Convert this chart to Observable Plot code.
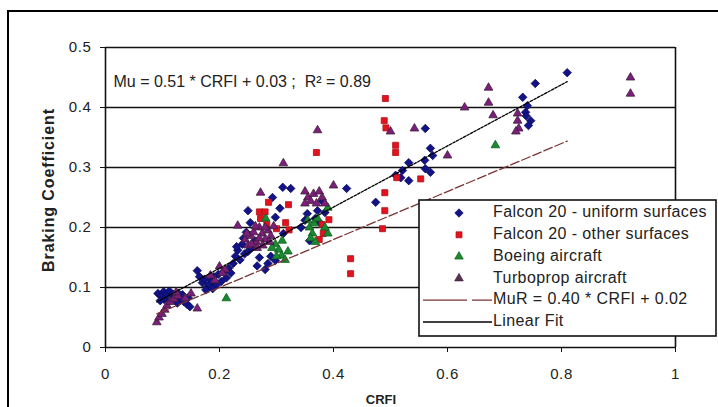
<!DOCTYPE html>
<html><head><meta charset="utf-8">
<script src="https://cdn.jsdelivr.net/npm/d3@7"></script>
<script src="https://cdn.jsdelivr.net/npm/@observablehq/plot@0.6"></script>
<style>
body{margin:0;background:#fff;}
#chart{position:relative;width:718px;height:407px;overflow:hidden;}
</style></head><body><div id="chart"></div>
<script>
// ---- data (CRFI, braking coefficient) ----
const falconUniform = [
 [0.092,0.090],[0.098,0.086],[0.102,0.093],[0.108,0.088],[0.112,0.094],[0.118,0.089],[0.122,0.084],[0.128,0.090],[0.133,0.080],[0.138,0.076],[0.143,0.072],[0.148,0.068],[0.103,0.080],[0.115,0.079],[0.126,0.074],[0.135,0.088],[0.145,0.083],[0.096,0.078],
 [0.161,0.128],[0.165,0.118],[0.170,0.108],[0.174,0.114],[0.178,0.100],[0.182,0.106],[0.186,0.112],[0.190,0.118],[0.194,0.104],[0.198,0.122],[0.203,0.110],[0.207,0.126],[0.212,0.116],[0.216,0.132],[0.220,0.124],[0.176,0.096],[0.188,0.098],
 [0.224,0.140],[0.228,0.152],[0.232,0.162],[0.236,0.146],[0.240,0.172],[0.244,0.156],[0.250,0.160],[0.242,0.182],[0.247,0.192],[0.230,0.168],[0.256,0.166],[0.262,0.178],
 [0.250,0.228],[0.254,0.208],[0.280,0.130],[0.298,0.145],[0.290,0.152],[0.298,0.217],[0.293,0.250],[0.311,0.267],[0.325,0.265],[0.306,0.232],[0.312,0.190],[0.285,0.140],[0.270,0.150],[0.266,0.136],
 [0.354,0.223],[0.350,0.212],[0.368,0.215],[0.376,0.208],[0.385,0.225],[0.372,0.228],[0.358,0.178],[0.380,0.244],[0.343,0.200],
 [0.423,0.265],[0.474,0.242],
 [0.509,0.287],[0.518,0.283],[0.521,0.295],[0.532,0.308],[0.532,0.278],[0.561,0.298],[0.570,0.292],[0.560,0.312],[0.574,0.320],[0.570,0.332],[0.561,0.365],
 [0.732,0.417],[0.740,0.403],[0.737,0.392],[0.746,0.378],[0.742,0.370],[0.738,0.386],[0.754,0.440],[0.810,0.458]
];
const falconOther = [
 [0.270,0.226],[0.280,0.226],[0.272,0.215],[0.286,0.242],[0.321,0.238],[0.316,0.208],[0.322,0.196],[0.283,0.205],[0.300,0.198],
 [0.370,0.325],[0.380,0.205],[0.382,0.190],[0.392,0.213],[0.375,0.180],
 [0.430,0.148],[0.430,0.123],
 [0.486,0.198],[0.490,0.228],[0.490,0.258],[0.491,0.415],[0.489,0.378],[0.492,0.366],[0.509,0.337],[0.509,0.325],[0.511,0.283],[0.553,0.281]
];
const boeing = [
 [0.212,0.082],[0.281,0.215],[0.298,0.172],[0.304,0.163],[0.309,0.153],[0.315,0.146],[0.320,0.160],[0.300,0.152],[0.292,0.166],[0.310,0.178],
 [0.358,0.200],[0.363,0.190],[0.360,0.182],[0.366,0.207],[0.390,0.233],[0.390,0.190],[0.372,0.215],[0.385,0.200],[0.355,0.212],[0.368,0.176],
 [0.684,0.337]
];
const turboprop = [
 [0.090,0.042],[0.094,0.050],[0.099,0.056],[0.104,0.063],[0.108,0.070],[0.114,0.076],[0.120,0.081],[0.127,0.086],[0.140,0.082],[0.124,0.092],[0.161,0.065],[0.150,0.090],
 [0.200,0.135],[0.210,0.130],[0.205,0.124],[0.192,0.112],[0.184,0.120],
 [0.232,0.203],[0.245,0.180],[0.250,0.170],[0.255,0.186],[0.260,0.192],[0.265,0.176],[0.270,0.200],[0.275,0.190],[0.280,0.180],[0.285,0.195],[0.290,0.186],[0.270,0.182],[0.280,0.200],[0.263,0.202],[0.256,0.172],[0.272,0.258],[0.295,0.202],[0.266,0.166],[0.276,0.170],[0.288,0.176],[0.248,0.190],
 [0.350,0.260],[0.355,0.250],[0.360,0.244],[0.365,0.256],[0.370,0.240],[0.375,0.260],[0.380,0.250],[0.385,0.240],[0.350,0.240],[0.400,0.270],
 [0.312,0.307],[0.372,0.362],[0.500,0.360],[0.542,0.365],[0.600,0.320],
 [0.630,0.400],[0.672,0.433],[0.672,0.408],[0.680,0.387],
 [0.723,0.390],[0.723,0.378],[0.725,0.365],[0.720,0.360],
 [0.921,0.450],[0.921,0.423]
];
const seriesNames = ["Falcon 20 - uniform surfaces","Falcon 20 - other surfaces","Boeing aircraft","Turboprop aircraft"];
const linearFit = {slope:0.51, intercept:0.03, from:0.09, to:0.81};
const murFit = {slope:0.40, intercept:0.02, from:0.09, to:0.81};
const lineNames = ["MuR = 0.40 * CRFI + 0.02","Linear Fit"];
const equationText = "Mu = 0.51 * CRFI + 0.03 ;  R\u00B2 = 0.89";
const xTicks = [0,0.2,0.4,0.6,0.8,1];
const yTicks = [0,0.1,0.2,0.3,0.4,0.5];
const xTitle = "CRFI", yTitle = "Braking Coefficient";

// ---- styles ----
const styles = [
 {symbol:"diamond2", r:3.8, fill:"#12128a", stroke:"#0c0c50"},
 {symbol:"square", r:3.4, fill:"#e3121c", stroke:"#b01018"},
 {symbol:"triangle", r:3.2, fill:"#1a8a30", stroke:"#106020"},
 {symbol:"triangle", r:3.2, fill:"#7d1e7d", stroke:"#3e2038"}
];
const all = [falconUniform, falconOther, boeing, turboprop];
const pts = s => s.map(([x,y]) => ({x,y}));
const seg = f => [{x:f.from, y:f.slope*f.from+f.intercept},{x:f.to, y:f.slope*f.to+f.intercept}];
const font = "'Liberation Sans', Arial, sans-serif";

const plot = Plot.plot({
  width:718, height:407,
  marginLeft:105, marginRight:43, marginTop:47, marginBottom:60,
  style:{fontFamily:font, fontSize:"15px", color:"#111", background:"#fff"},
  x:{domain:[0,1], label:null},
  y:{domain:[0,0.5], label:null},
  marks:[
    Plot.ruleY(yTicks.filter(d=>d>0), {stroke:"#111", strokeWidth:1.6}),
    Plot.ruleX([1], {stroke:"#111", strokeWidth:1.6}),
    Plot.ruleX([0], {stroke:"#111", strokeWidth:1.6}),
    Plot.ruleY([0], {stroke:"#111", strokeWidth:1.6}),
    Plot.axisX({ticks:xTicks, tickSize:5, tickPadding:16, tickFormat:d=>d===0||d===1?String(d):d.toFixed(1), stroke:"#111", fill:"#222"}),
    Plot.axisY({ticks:yTicks, tickSize:5, tickPadding:9, tickFormat:d=>d===0?"0":d.toFixed(1), stroke:"#111", fill:"#222"}),
    ...all.map((s,i)=>Plot.dot(pts(s), {x:"x", y:"y", symbol:()=>styles[i].symbol, r:styles[i].r, fill:styles[i].fill, stroke:styles[i].stroke, strokeWidth:0.8})),
    Plot.line(seg(murFit), {x:"x", y:"y", stroke:"#7b3434", strokeWidth:1.3, strokeDasharray:"9,3"}),
    Plot.line(seg(linearFit), {x:"x", y:"y", stroke:"#000", strokeWidth:1.3, strokeDasharray:"2.5,1.5"}),
    Plot.text([equationText], {frameAnchor:"top-left", dx:8, dy:28, text:d=>d, fontSize:16, fill:"#222", textAnchor:"start", ariaLabel:"equation"})
  ]
});
document.getElementById("chart").appendChild(plot);

const svg = d3.select(plot);
svg.selectAll('g[aria-label="x-axis tick label"] text, g[aria-label="y-axis tick label"] text').style("letter-spacing","0.6px");
svg.selectAll('g[aria-label="equation"] text').style("letter-spacing","1px");

// axis titles
svg.append("text").attr("transform","translate(50,190) rotate(-90)").attr("text-anchor","middle")
  .attr("dominant-baseline","middle").style("font-family",font).style("font-size","16px").style("font-weight","bold")
  .style("letter-spacing","0.9px").attr("fill","#222").text(yTitle);
svg.append("text").attr("x",381).attr("y",404).attr("text-anchor","middle")
  .style("font-family",font).style("font-size","13px").style("font-weight","bold").attr("fill","#222").text(xTitle);

// legend
const lg = svg.append("g");
lg.append("rect").attr("x",419).attr("y",200).attr("width",297).attr("height",136)
  .attr("fill","#fff").attr("stroke","#111").attr("stroke-width",1.6);
const rowY = i => 213 + i*21.8;
const d3sym = {diamond2:d3.symbolDiamond2, square:d3.symbolSquare, triangle:d3.symbolTriangle};
seriesNames.forEach((name,i)=>{
  const st = styles[i];
  lg.append("path").attr("transform",`translate(459,${rowY(i)})`)
    .attr("d", d3.symbol().type(d3sym[st.symbol]).size(Math.PI*st.r*st.r)())
    .attr("fill", i===3 ? "#5a3050" : st.fill).attr("stroke", st.stroke).attr("stroke-width",0.7);
  lg.append("text").attr("x",493).attr("y",rowY(i)).attr("dominant-baseline","middle").attr("text-anchor","start")
    .style("font-family",font).style("font-size","16px").style("letter-spacing","0.4px").attr("fill","#222").text(name);
});
lg.append("line").attr("x1",423).attr("x2",492).attr("y1",rowY(4)).attr("y2",rowY(4))
  .attr("stroke","#7b3434").attr("stroke-width",1.3).attr("stroke-dasharray","44,5,20");
lg.append("line").attr("x1",423).attr("x2",492).attr("y1",rowY(5)).attr("y2",rowY(5))
  .attr("stroke","#000").attr("stroke-width",1.3);
lineNames.forEach((name,j)=>{
  lg.append("text").attr("x",493).attr("y",rowY(4+j)).attr("dominant-baseline","middle").attr("text-anchor","start")
    .style("font-family",font).style("font-size","16px").style("letter-spacing","0.4px").attr("fill","#222").text(name);
});

// outer frame
svg.append("rect").attr("x",8).attr("y",11).attr("width",760).attr("height",440)
  .attr("fill","none").attr("stroke","#000").attr("stroke-width",2);
</script></body></html>
